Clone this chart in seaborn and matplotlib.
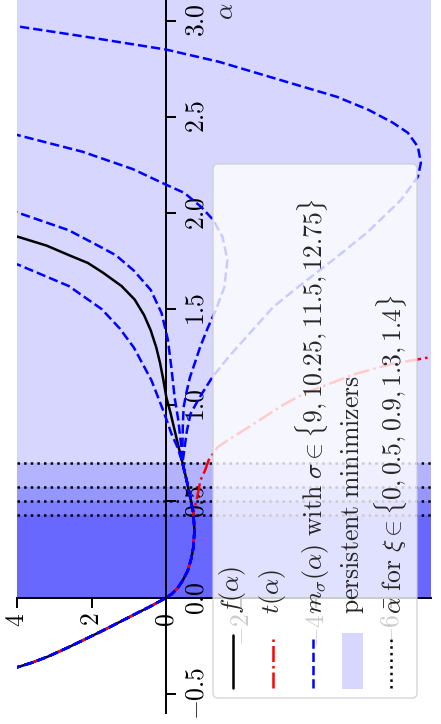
import numpy as np
import pandas as pd
import matplotlib
matplotlib.use("Agg")
import matplotlib.pyplot as plt
import seaborn as sns
from matplotlib.ticker import FuncFormatter, FixedLocator
from matplotlib.transforms import IdentityTransform
from matplotlib.patches import FancyBboxPatch, Rectangle
from matplotlib.lines import Line2D

# ---------------- data ----------------
# common branch shared by f, t and every m_sigma
alpha_low = [-0.40, -0.363, -0.34, -0.308, -0.255, -0.20, -0.16, -0.117, -0.08, -0.047, 0.0,
             0.02, 0.05, 0.09, 0.14, 0.20, 0.26, 0.35, 0.44]
val_low = [4.7, 4.0, 3.62, 3.18, 2.58, 2.0, 1.58, 1.15, 0.78, 0.44, 0.0,
           -0.15, -0.3, -0.44, -0.57, -0.66, -0.72, -0.75, -0.72]
alpha_mid = [0.52, 0.61, 0.70]
val_mid = [-0.64, -0.54, -0.43]

# f(alpha) after the common branch
alpha_f = [0.78, 0.87, 0.96, 1.04, 1.13, 1.22, 1.30, 1.39, 1.47, 1.55, 1.62, 1.69,
           1.74, 1.78, 1.83, 1.875, 1.92]
val_f = [-0.33, -0.22, -0.11, 0.0, 0.08, 0.17, 0.27, 0.42, 0.6, 0.85, 1.2, 1.7,
         2.1, 2.6, 3.2, 3.95, 4.8]

# t(alpha) after the common branch
alpha_t = [0.52, 0.61, 0.66, 0.715, 0.783, 0.835, 0.924, 1.0, 1.063, 1.16, 1.214, 1.25, 1.27]
val_t = [-0.82, -0.91, -1.03, -1.13, -1.37, -1.78, -2.5, -3.1, -3.7, -5.0, -6.0, -7.05, -7.9]

# m_sigma(alpha) after the common branch, sigma in {9, 10.25, 11.5, 12.75}
sigmas = [9, 10.25, 11.5, 12.75]
alpha_m9 = [0.78, 0.854, 0.96, 1.13, 1.30, 1.40, 1.50, 1.62, 1.73, 1.78]
val_m9 = [-0.3, -0.13, 0.06, 0.4, 0.87, 1.25, 1.73, 2.61, 3.95, 4.8]
alpha_m10 = [0.78, 0.92, 1.04, 1.20, 1.34, 1.48, 1.60, 1.70, 1.78, 1.82, 1.91, 2.0, 2.05]
val_m10 = [-0.40, -0.32, -0.22, -0.13, -0.04, 0.13, 0.42, 0.87, 1.35, 1.73, 2.61, 3.95, 4.8]
alpha_m11 = [0.80, 0.90, 0.99, 1.07, 1.146, 1.22, 1.302, 1.40, 1.495, 1.615, 1.755, 1.875,
             1.964, 2.031, 2.104, 2.146, 2.186, 2.228, 2.318, 2.406, 2.45]
val_m11 = [-0.43, -0.44, -0.46, -0.54, -0.63, -0.76, -0.9, -1.1, -1.32, -1.55, -1.63, -1.5,
           -1.25, -0.93, -0.48, 0.0, 0.44, 0.9, 2.24, 4.0, 4.8]
alpha_m12 = [0.80, 0.87, 0.958, 1.045, 1.15, 1.26, 1.375, 1.51, 1.60, 1.755, 1.896, 2.068,
             2.188, 2.26, 2.344, 2.417, 2.469, 2.536, 2.604, 2.682, 2.786, 2.849, 2.917,
             2.969, 3.01]
val_m12 = [-0.5, -0.55, -0.65, -0.9, -1.24, -1.7, -2.23, -2.85, -3.42, -4.45, -5.35, -6.27,
           -6.72, -6.8, -6.72, -6.45, -6.05, -5.4, -4.55, -3.2, -1.4, 0.0, 2.19, 3.95, 5.0]

# persistent minimizers: alpha_bar for xi in {0, 0.5, 0.9, 1.3, 1.4}
xis = [0, 0.5, 0.9, 1.3, 1.4]
alpha_bar = [3.5, 0.698, 0.573, 0.5, 0.427]

alpha_ticks = [-0.5, 0.0, 0.5, 1.0, 1.5, 2.0, 2.5, 3.0]
value_ticks = [-6, -4, -2, 0, 2, 4]

# ---------------- style ----------------
sns.set_style("white")
plt.rcParams.update({
    "mathtext.fontset": "cm",
    "font.family": ["DejaVu Serif"],
    "axes.unicode_minus": True,
})

W, H = 441, 724
FS = 18.5
LW = 1.8
fig = plt.figure(figsize=(W / 100, H / 100), dpi=100)
ax = fig.add_axes([16.7 / W, 11 / H, (431 - 16.7) / W, 713 / H])
ax.set_facecolor("white")

for ab in alpha_bar:
    ax.axhspan(0, ab, color="blue", alpha=0.16, lw=0, zorder=0.5)
for ab in alpha_bar:
    ax.axhline(ab, color="black", ls=":", lw=LW, zorder=1)


def draw(a, v, **kw):
    df = pd.DataFrame({"alpha": a, "value": v})
    sns.lineplot(data=df, x="value", y="alpha", sort=False, estimator=None,
                 ax=ax, zorder=3, **kw)


draw(alpha_low + alpha_mid + alpha_f, val_low + val_mid + val_f, color="black", linewidth=LW)
draw(alpha_low + alpha_t, val_low + val_t, color="red", linewidth=LW, linestyle="-.")
for am, vm in [(alpha_m9, val_m9), (alpha_m10, val_m10), (alpha_m11, val_m11), (alpha_m12, val_m12)]:
    draw(alpha_low + alpha_mid + am, val_low + val_mid + vm, color="blue", linewidth=LW,
         linestyle="--")

ax.set_xlabel("")
ax.set_ylabel("")
ax.set_xlim(4.0, -7.07)
ax.set_ylim(-0.6, 3.107)

for s in ["left", "top"]:
    ax.spines[s].set_visible(False)
ax.spines["right"].set_position(("data", 0))
ax.spines["bottom"].set_position(("data", 0))
for s in ["right", "bottom"]:
    ax.spines[s].set_linewidth(1.4)
    ax.spines[s].set_color("black")
    ax.spines[s].set_zorder(2.6)

ax.xaxis.set_major_locator(FixedLocator(value_ticks))
ax.yaxis.set_major_locator(FixedLocator(alpha_ticks))


def fmt_int(v, pos):
    s = f"{abs(v):.0f}"
    return rf"$-\mathrm{{{s}}}$" if v < 0 else rf"$\mathrm{{{s}}}$"


def fmt_one(v, pos):
    s = f"{abs(v):.1f}"
    return rf"$-\mathrm{{{s}}}$" if v < 0 else rf"$\mathrm{{{s}}}$"


ax.xaxis.set_major_formatter(FuncFormatter(fmt_int))
ax.yaxis.set_major_formatter(FuncFormatter(fmt_one))
ax.yaxis.tick_right()
ax.xaxis.tick_bottom()
ax.tick_params(axis="x", direction="out", length=7, width=1.4, labelsize=FS,
               labelrotation=90, pad=4, colors="black")
ax.tick_params(axis="y", direction="out", length=7, width=1.4, labelsize=FS,
               labelrotation=90, pad=5, colors="black", right=True, left=False,
               labelright=True, labelleft=False)
plt.setp(ax.get_yticklabels(), va="center")

# axis label alpha (placed at the top end of the alpha axis)
idt = IdentityTransform()
fig.text(226, H - 11, r"$\alpha$", transform=idt, rotation=90, ha="center",
         va="center", fontsize=FS)

# ---------------- rotated legend ----------------
box = FancyBboxPatch((213, H - 698), 417 - 213, 698 - 164,
                     boxstyle="round,pad=0,rounding_size=5", transform=idt,
                     facecolor="white", edgecolor="0.8", lw=1.0, alpha=0.8, zorder=5)
fig.add_artist(box)

labels = [
    r"$f(\alpha)$",
    r"$t(\alpha)$",
    r"$m_\sigma(\alpha)\ \mathrm{with}\ \sigma\in\{\mathrm{9, 10.25, 11.5, 12.75}\}$",
    r"$\mathrm{persistent\ minimizers}$",
    r"$\bar{\alpha}\ \mathrm{for}\ \xi\in\{\mathrm{0, 0.5, 0.9, 1.3, 1.4}\}$",
]
cols = [233, 273, 313, 352, 391]
styles = [dict(color="black", ls="-"), dict(color="red", ls="-."),
          dict(color="blue", ls="--"), None, dict(color="black", ls=":")]
for xc, lab, st in zip(cols, labels, styles):
    if st is None:
        fig.add_artist(Rectangle((xc - 10.5, H - 689), 21, 56, transform=idt,
                                 facecolor="blue", alpha=0.16, lw=0, zorder=6))
    else:
        fig.add_artist(Line2D([xc, xc], [H - 688, H - 635], transform=idt,
                              lw=LW, zorder=6, **st))
    fig.text(xc, H - 614, lab, transform=idt, rotation=90, ha="center",
             va="bottom", fontsize=FS, zorder=7)

fig.savefig("out.png", dpi=100)
